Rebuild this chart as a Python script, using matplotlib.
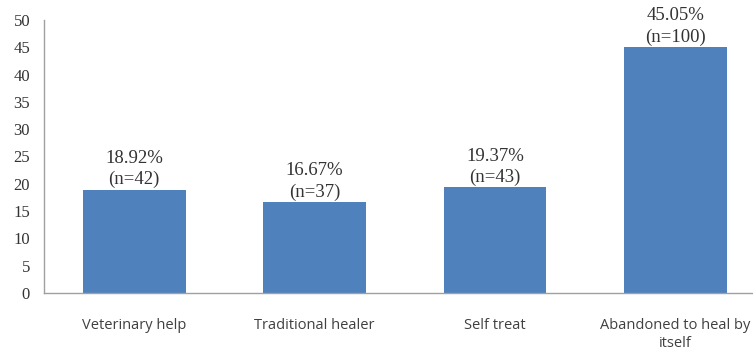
import matplotlib.pyplot as plt

categories = ['Veterinary help', 'Traditional healer', 'Self treat', 'Abandoned to heal by\nitself']
percent = [18.92, 16.67, 19.37, 45.05]
counts = [42, 37, 43, 100]
yticks = list(range(0, 55, 5))

fig = plt.figure(figsize=(7.53, 3.51), dpi=100)
ax = fig.add_axes([44 / 753, 58 / 351, 709 / 753, 273 / 351])

x = range(len(categories))
ax.bar(x, percent, width=0.57, color='#4F81BD')

for i, (p, n) in enumerate(zip(percent, counts)):
    ax.annotate(f'{p:.2f}%\n(n={n})', (i, p), xytext=(0, 1), textcoords='offset points',
                ha='center', va='bottom', fontsize=13.5, family='Liberation Serif',
                color='#333333', linespacing=1.3)

ax.set_xlim(-0.5, 3.43)
ax.set_ylim(0, 50)
ax.set_yticks(yticks)
ax.set_yticklabels([str(t) for t in yticks], family='Liberation Serif', fontsize=12, color='#333333')
ax.set_xticks(list(x))
ax.set_xticklabels(categories, family='Open Sans', fontsize=10.5, color='#404040', linespacing=1.25)
ax.tick_params(length=0)
ax.tick_params(axis='x', pad=18)
ax.tick_params(axis='y', pad=10)

for side in ['top', 'right']:
    ax.spines[side].set_visible(False)
for side in ['left', 'bottom']:
    ax.spines[side].set_color('#A0A0A0')
    ax.spines[side].set_linewidth(1.0)

fig.savefig('out.png', dpi=100)
